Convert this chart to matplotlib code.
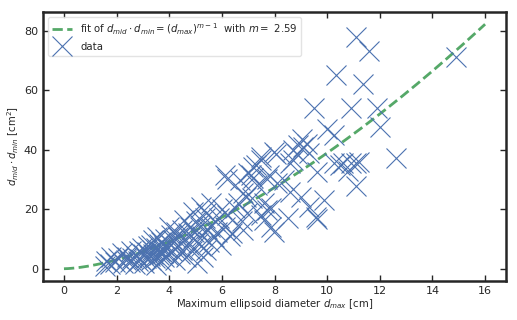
import numpy as np
import matplotlib
matplotlib.use("Agg")
import matplotlib.pyplot as plt

# fitted exponent and fit range
m_fit = 2.59
fit_xmax = 16

d_max = [
    1.55, 1.6, 1.75, 1.8, 1.95, 2.05, 2.2, 2.25, 2.35, 2.4, 2.5, 2.55, 2.6,
    2.7, 2.75, 2.8, 2.85, 2.9, 2.95, 3.0, 3.05, 3.1, 3.15, 3.2, 3.25, 3.3, 3.3, 3.35, 3.4, 3.4, 3.45, 3.5, 3.5,
    3.55, 3.6, 3.6, 3.65, 3.7, 3.7, 3.75, 3.8, 3.8, 3.85, 3.9, 3.95, 4.0, 4.0, 4.05, 4.1, 4.15, 4.2, 4.25,
    4.3, 4.35, 4.4, 4.45, 4.5, 4.5,
    4.55, 4.6, 4.65, 4.7, 4.75, 4.8, 4.85, 4.9, 4.9, 4.95, 5.0, 5.05, 5.1, 5.15, 5.2, 5.2, 5.25, 5.3,
    5.35, 5.4, 5.4, 5.45, 5.5, 5.55,
    5.6, 5.7, 5.75, 5.8, 5.9, 5.95, 6.0, 6.1, 6.13, 6.2, 6.2, 6.3, 6.4, 6.5, 6.6, 6.7, 6.75, 6.8, 6.8,
    6.9, 6.96, 7.0,
    7.1, 7.15, 7.2, 7.2, 7.3, 7.34, 7.47, 7.47, 7.5, 7.6, 7.6, 7.7, 7.7, 7.8, 7.85, 7.85, 7.97, 7.97,
    8.04, 8.1, 8.35, 8.5, 8.6, 8.6, 8.7, 8.7,
    8.86, 8.9, 9.0, 9.05, 9.1, 9.25, 9.3, 9.3, 9.5, 9.56, 9.63, 9.6, 9.87, 10.0,
    10.25, 10.25, 10.35, 10.5, 10.6, 10.8, 10.9, 10.9, 11.08, 11.1, 11.1, 11.2, 11.35, 11.6, 11.9,
    12.0, 12.6, 14.9,
]
d_mid_min = [
    1.0, 2.5, 1.5, 4.0, 2.4, 3.5, 5.2, 2.0, 3.0, 4.1, 2.4, 5.8, 3.5,
    1.5, 4.3, 2.5, 6.0, 3.2, 6.9, 4.8, 2.0, 3.6, 5.5, 7.5, 4.2, 8.0, 2.8, 6.2, 9.7, 5.0, 3.5, 7.0, 1.2,
    10.8, 4.5, 8.2, 6.0, 2.5, 9.0, 5.2, 7.5, 3.8, 10.0, 6.8, 4.5, 8.6, 14.1, 11.5, 6.0, 9.5, 3.0, 12.5,
    7.2, 10.5, 5.0, 8.5, 6.4, 13.0,
    16.4, 10.0, 4.0, 12.0, 8.0, 14.1, 6.0, 19.2, 10.2, 12.5, 16.0, 1.9, 8.5, 14.0, 20.8, 7.5, 11.0, 4.1,
    17.0, 18.6, 6.4, 13.5, 9.0, 14.1,
    22.0, 10.8, 16.0, 12.5, 17.0, 8.0, 20.0, 14.0, 31.4, 30.3, 18.0, 11.0, 12.0, 20.5, 22.0, 29.8, 16.0,
    25.4, 13.0, 24.2, 18.7, 32.0,
    31.4, 23.6, 30.4, 34.2, 34.8, 28.1, 36.5, 18.0, 37.6, 22.0, 16.4, 19.7, 30.3, 31.4, 20.4, 14.1,
    39.2, 12.5,
    38.7, 28.7, 29.8, 17.0, 25.9, 35.4, 36.5, 39.8,
    38.7, 41.5, 24.2, 43.7, 40.9, 42.0, 38.8, 20.8, 54.0, 17.5, 16.6, 32.5, 23.1, 47.0,
    45.0, 35.5, 65.0, 34.8, 35.5, 33.0, 54.0, 35.5, 27.8, 78.0, 35.5, 36.0, 62.0, 73.0, 54.0,
    47.5, 37.2, 71.0,
]

plt.rcParams["font.family"] = "DejaVu Sans"
plt.rcParams["font.size"] = 7.3
plt.rcParams["text.color"] = "#262626"
plt.rcParams["axes.labelcolor"] = "#262626"
plt.rcParams["xtick.color"] = "#262626"
plt.rcParams["ytick.color"] = "#262626"

fig = plt.figure(figsize=(5.17, 3.2), dpi=100)
ax = fig.add_axes([0.083, 0.122, 0.896, 0.8405])

x_fit = np.linspace(0, fit_xmax, 200)
ax.plot(
    x_fit, x_fit ** (m_fit - 1), "--", color="#55a868", lw=2,
    label=r"fit of $d_{mid} \cdot d_{min} = (d_{max})^{m-1}$  with $m = $ " + f"{m_fit:.2f}",
)
ax.plot(d_max, d_mid_min, "x", ls="none", color="#4c72b0", ms=15, mew=0.8, label="data")

ax.set_xlabel(r"Maximum ellipsoid diameter $d_{max}$ [cm]", labelpad=1)
ax.set_ylabel(r"$d_{mid} \cdot d_{min}$ [cm$^2$]", labelpad=2)
ax.set_xticks(np.arange(0, 17, 2))
ax.set_yticks(np.arange(0, 81, 20))
ax.tick_params(direction="in", top=True, right=True, length=4, width=1, labelsize=8)
for s in ax.spines.values():
    s.set_linewidth(1.8)
    s.set_color("#262626")

leg = ax.legend(loc="upper left", frameon=True, fancybox=True, framealpha=0.8,
                borderpad=0.4, handlelength=2.0)
leg.get_frame().set_edgecolor("#dddddd")

fig.savefig("out.png", dpi=100)
